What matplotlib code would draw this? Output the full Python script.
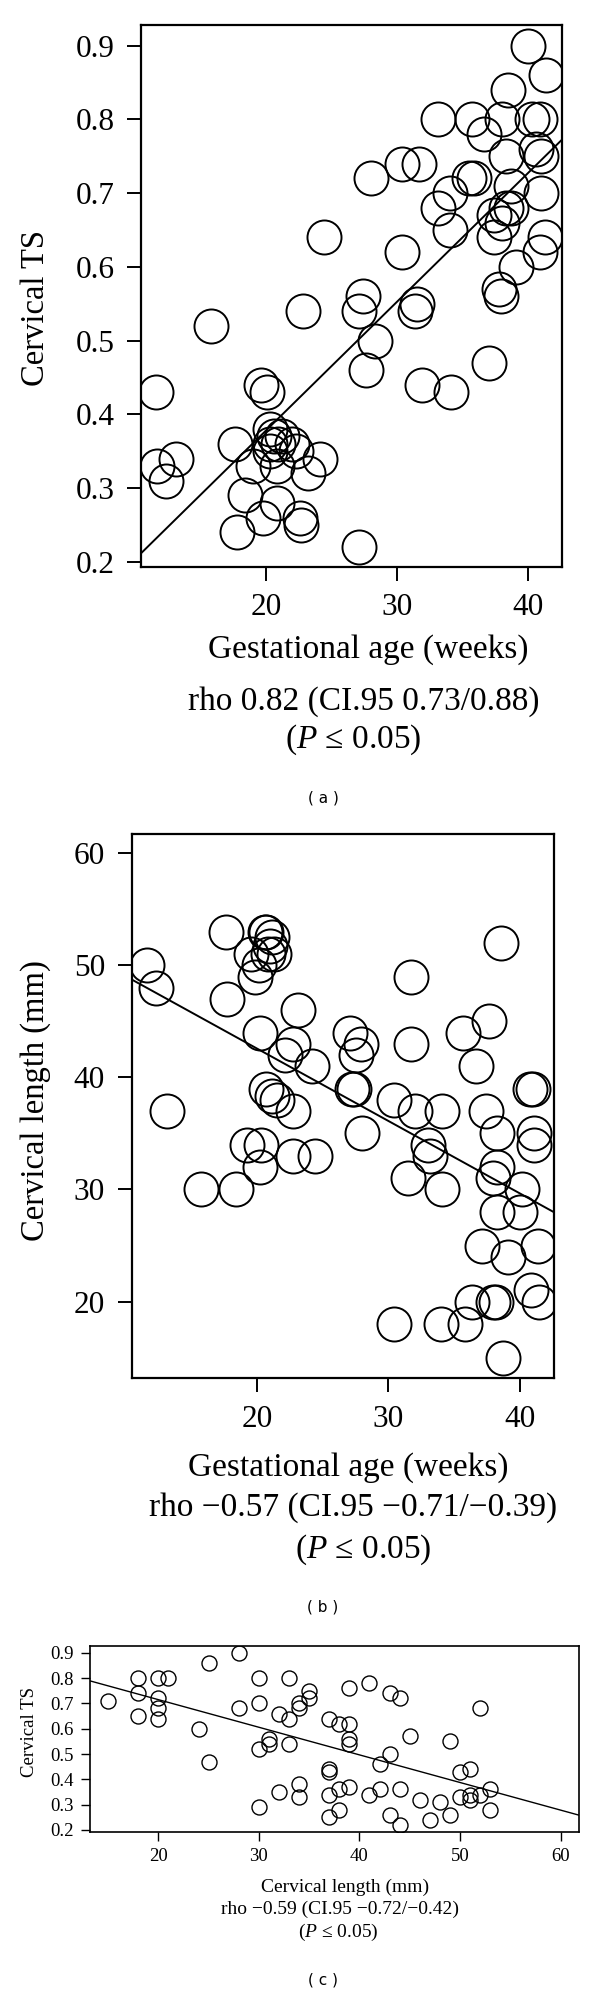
import matplotlib
matplotlib.use("Agg")
import matplotlib.pyplot as plt

plt.rcParams["font.family"] = ["Liberation Serif", "DejaVu Serif"]
plt.rcParams["mathtext.fontset"] = "custom"
plt.rcParams["mathtext.rm"] = "Liberation Serif"
plt.rcParams["mathtext.it"] = "Liberation Serif:italic"

# (a) gestational age vs cervical TS
ga_a = [40.0, 41.4, 38.5, 33.1, 35.7, 38.0, 40.3, 40.9, 36.6, 38.3, 40.6, 41.0,
        30.4, 31.7, 28.0, 35.5, 35.9, 38.7, 34.0, 41.0, 33.1, 37.4, 38.3, 38.7,
        38.0, 34.0, 37.4, 41.3, 40.9, 24.4, 30.4, 39.1, 27.4, 27.1, 22.8, 31.5,
        31.4, 37.8, 37.9, 15.8, 28.3, 27.6, 37.0, 11.6, 19.6, 20.1, 31.9, 34.1,
        13.1, 11.7, 12.4, 17.6, 24.1, 23.2, 19.0, 20.8, 18.4, 20.8, 17.8, 19.8,
        22.6, 22.7, 27.1, 20.3, 20.6, 20.9, 21.2, 22.0, 20.3, 22.3, 20.3]
ts_a = [0.90, 0.86, 0.84, 0.80, 0.80, 0.80, 0.80, 0.80, 0.78, 0.75, 0.76, 0.75,
        0.74, 0.74, 0.72, 0.72, 0.72, 0.71, 0.70, 0.70, 0.68, 0.67, 0.68, 0.68,
        0.66, 0.65, 0.64, 0.64, 0.62, 0.64, 0.62, 0.60, 0.56, 0.54, 0.54, 0.55,
        0.54, 0.57, 0.56, 0.52, 0.50, 0.46, 0.47, 0.43, 0.44, 0.43, 0.44, 0.43,
        0.34, 0.33, 0.31, 0.36, 0.34, 0.32, 0.33, 0.33, 0.29, 0.28, 0.24, 0.26,
        0.26, 0.25, 0.22, 0.38, 0.37, 0.36, 0.37, 0.36, 0.35, 0.35, 0.36]
fit_a = (0.029, 0.01746)  # intercept, slope

# (b) gestational age vs cervical length
ga_b = [11.6, 12.3, 13.1, 17.6, 17.7, 20.6, 20.7, 21.1, 21.0, 19.5, 20.8, 21.3,
        19.8, 20.1, 20.2, 23.1, 22.7, 22.1, 24.2, 20.7, 21.1, 21.5, 22.7, 19.2,
        20.3, 20.2, 22.7, 24.4, 15.7, 18.4, 27.1, 27.9, 27.5, 27.2, 27.4, 28.0,
        30.4, 31.7, 31.7, 32.0, 33.0, 33.2, 31.5, 34.1, 34.1, 35.7, 37.7, 36.7,
        37.4, 38.3, 38.3, 38.0, 38.6, 40.2, 38.3, 40.0, 40.8, 41.0, 41.1, 41.1,
        37.1, 41.4, 39.1, 40.9, 36.4, 38.0, 38.2, 41.5, 30.4, 34.0, 35.8, 38.7]
cl_b = [50, 48, 37, 53, 47, 53, 53, 52.5, 51.7, 51, 51, 51,
        49, 50, 44, 46, 43, 42, 41, 39, 38.3, 38, 37, 34,
        34, 32, 33, 33, 30, 30, 44, 43, 42, 39, 39, 35,
        38, 49, 43, 37, 34, 33, 31, 37, 30, 44, 45, 41,
        37, 35, 32, 31, 52, 30, 28, 28, 39, 39, 35, 34,
        25, 25, 24, 21, 20, 20, 20, 20, 18, 18, 18, 15]
fit_b = (55.46, -0.645)

# (c) cervical length vs cervical TS
cl_c = [15, 18, 18, 18, 20, 21, 20, 20, 20, 25, 24, 25, 28, 28, 30, 30, 30, 30,
        31, 31, 32, 32, 33, 33, 33, 34, 34, 34, 34, 35, 35, 39, 41, 43, 44, 37,
        38, 39, 39, 39, 52, 45, 49, 43, 42, 37, 37, 50, 51, 37, 38, 39, 41, 42,
        44, 46, 48, 50, 51, 51, 52, 53, 38, 37, 43, 44, 47, 49, 53]
ts_c = [0.71, 0.80, 0.74, 0.65, 0.80, 0.80, 0.72, 0.68, 0.64, 0.86, 0.60, 0.47,
        0.90, 0.68, 0.80, 0.70, 0.52, 0.29, 0.56, 0.54, 0.66, 0.35, 0.80, 0.64,
        0.54, 0.70, 0.68, 0.38, 0.33, 0.75, 0.72, 0.76, 0.78, 0.74, 0.72, 0.64,
        0.62, 0.62, 0.56, 0.54, 0.68, 0.57, 0.55, 0.50, 0.46, 0.44, 0.43, 0.43,
        0.44, 0.34, 0.36, 0.37, 0.34, 0.36, 0.36, 0.32, 0.31, 0.33, 0.34, 0.32,
        0.34, 0.36, 0.28, 0.25, 0.26, 0.22, 0.24, 0.26, 0.28]
fit_c = (0.933, -0.01091)

ts_ticks = [0.2, 0.3, 0.4, 0.5, 0.6, 0.7, 0.8, 0.9]
ts_labels = ["0.2", "0.3", "0.4", "0.5", "0.6", "0.7", "0.8", "0.9"]

W, H = 600, 1995
fig = plt.figure(figsize=(W / 100, H / 100), dpi=100)


def rect(l, r, t, b):
    return [l / W, 1 - b / H, (r - l) / W, (b - t) / H]


def put(x, y, s, size, **kw):
    fig.text(x / W, 1 - y / H, s, fontsize=size, ha="center", va="center", **kw)


def panel(box, x, y, fit, xlim, ylim, xticks, yticks, ms, big):
    ax = fig.add_axes(rect(*box))
    ax.plot(x, y, "o", ms=ms, mfc="none", mec="black", mew=1.4 if big else 1.0,
            ls="none")
    ax.axline((0, fit[0]), slope=fit[1], color="black", lw=1.4 if big else 1.0)
    ax.set_xlim(*xlim)
    ax.set_ylim(*ylim)
    ax.set_xticks(xticks)
    ax.set_yticks(yticks)
    if big:
        ax.tick_params(labelsize=22.5, length=10, width=1.4, pad=9)
    else:
        ax.tick_params(labelsize=13.5, length=6.5, width=1.0, pad=5)
    for sp in ax.spines.values():
        sp.set_linewidth(1.6 if big else 1.2)
    return ax


ax_a = panel((140.8, 561.8, 25, 567), ga_a, ts_a, fit_a, (10.44, 42.57),
             (0.193, 0.928), [20, 30, 40], ts_ticks, 24.5, True)
ax_a.set_yticklabels(ts_labels)
put(36, 308, "Cervical TS", 23.5, rotation=90)
put(368, 650, "Gestational age (weeks)", 24)
put(364, 702, "rho 0.82 (CI.95 0.73/0.88)", 24)
put(353, 740, "($P$ ≤ 0.05)", 24)
put(323, 798, "( a )", 11, family="DejaVu Sans")

ax_b = panel((131.5, 554, 834, 1378.3), ga_b, cl_b, fit_b, (10.41, 42.62),
             (13.15, 61.72), [20, 30, 40], [20, 30, 40, 50, 60], 24.5, True)
put(36, 1101, "Cervical length (mm)", 23.5, rotation=90)
put(348, 1468, "Gestational age (weeks)", 24)
put(353, 1508, "rho −0.57 (CI.95 −0.71/−0.39)", 24)
put(363, 1550, "($P$ ≤ 0.05)", 24)
put(323, 1607, "( b )", 11, family="DejaVu Sans")

ax_c = panel((90, 578.6, 1645.7, 1831.7), cl_c, ts_c, fit_c, (13.2, 61.8),
             (0.193, 0.928), [20, 30, 40, 50, 60], ts_ticks, 10.8, False)
ax_c.set_yticklabels(ts_labels)
put(30, 1732, "Cervical TS", 13.5, rotation=90)
put(345, 1887, "Cervical length (mm)", 14)
put(340, 1909, "rho −0.59 (CI.95 −0.72/−0.42)", 14)
put(338, 1932, "($P$ ≤ 0.05)", 14)
put(323, 1980, "( c )", 11, family="DejaVu Sans")

fig.savefig("out.png", dpi=100)
